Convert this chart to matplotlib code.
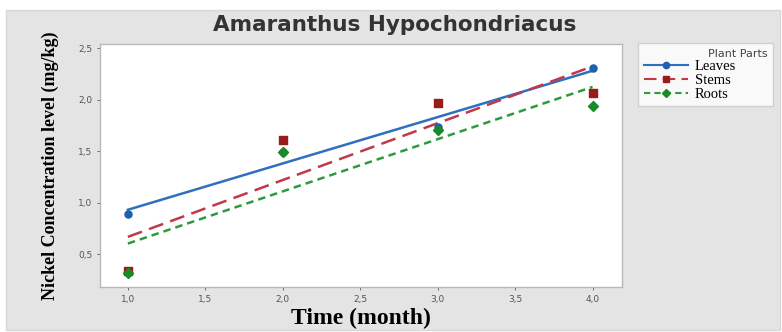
import matplotlib.pyplot as plt
import numpy as np
from matplotlib.patches import Rectangle
from matplotlib.lines import Line2D
from matplotlib.ticker import FuncFormatter

# Nickel concentration (mg/kg) per plant part
months = [1, 2, 3, 4]
leaves = [0.89, 1.49, 1.73, 2.31]
stems = [0.34, 1.61, 1.97, 2.06]
roots = [0.32, 1.49, 1.70, 1.94]

x_ticks = [1.0, 1.5, 2.0, 2.5, 3.0, 3.5, 4.0]
y_ticks = [0.5, 1.0, 1.5, 2.0, 2.5]

SERIES = [
    ("Leaves", leaves, "#1f5fb0", "-", "o"),
    ("Stems", stems, "#9b1b1b", (0, (6, 3)), "s"),
    ("Roots", roots, "#1a8a2a", (0, (3, 2)), "D"),
]
LINE_COLORS = {"Leaves": "#2f6fc0", "Stems": "#c0394a", "Roots": "#2e9a3e"}

fig = plt.figure(figsize=(7.82, 3.32), dpi=100)
fig.patch.set_facecolor("white")
fig.patches.append(Rectangle((6 / 782, 0.006), 774 / 782, 1 - 12 / 332,
                             transform=fig.transFigure, facecolor="#e4e4e4",
                             edgecolor="#d8d8d8", zorder=-10))

ax = fig.add_axes([100 / 782, 1 - 287 / 332, 522 / 782, 243 / 332])
ax.set_facecolor("white")

handles = []
for name, vals, color, ls, marker in SERIES:
    slope, intercept = np.polyfit(months, vals, 1)
    xs = np.array([months[0], months[-1]])
    ax.plot(xs, intercept + slope * xs, color=LINE_COLORS[name], ls=ls, lw=1.8, zorder=2)
    ax.scatter(months, vals, color=color, marker=marker, s=26, zorder=3)
    handles.append(Line2D([], [], color=LINE_COLORS[name], ls=ls, lw=1.5,
                          marker=marker, markersize=4.5, markerfacecolor=color,
                          markeredgecolor=color, label=name))

ax.set_xlim(0.82, 4.19)
ax.set_ylim(0.18, 2.54)
ax.set_xticks(x_ticks)
ax.set_yticks(y_ticks)
comma = FuncFormatter(lambda v, p: f"{v:.1f}".replace(".", ","))
ax.xaxis.set_major_formatter(comma)
ax.yaxis.set_major_formatter(comma)
ax.tick_params(labelsize=6.5, colors="#555555", length=2, width=0.6)
for s in ax.spines.values():
    s.set_color("#b8b8b8")
    s.set_linewidth(1.0)

ax.set_xlabel("Time (month)", family="Liberation Serif", fontweight="bold",
              fontsize=17, labelpad=3)
ax.set_ylabel("Nickel Concentration level (mg/kg)", family="Liberation Serif",
              fontweight="bold", fontsize=13, labelpad=14)

fig.text(395 / 782, 1 - 25 / 332, "Amaranthus Hypochondriacus", ha="center",
         va="center", fontsize=15.5, fontweight="bold", color="#333333")

leg = fig.legend(handles=handles, loc="upper left",
                 bbox_to_anchor=(638 / 782, 1 - 107 / 332, 135 / 782, 64 / 332),
                 mode="expand", title="Plant Parts", title_fontsize=8, frameon=True,
                 prop={"family": "Liberation Serif", "size": 10.5}, handlelength=3.0,
                 labelspacing=0.05, borderpad=0.4, handletextpad=0.5, borderaxespad=0)
leg._legend_box.align = "right"
leg.get_title().set_color("#444444")
leg.get_frame().set_edgecolor("#c8c8c8")
leg.get_frame().set_facecolor("white")
leg.get_frame().set_boxstyle("square", pad=0)
leg.get_frame().set_linewidth(1.0)

fig.savefig("out.png", dpi=100)
